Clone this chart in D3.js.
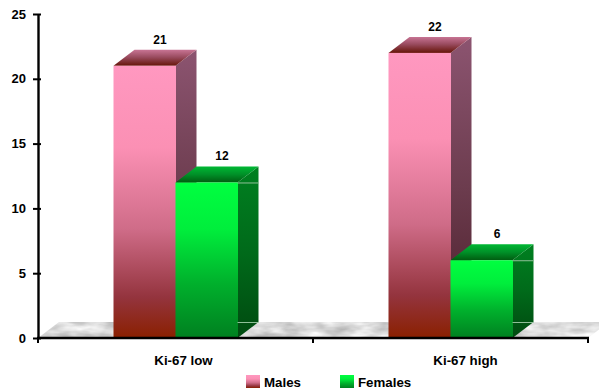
<!DOCTYPE html>
<html>
<head>
<meta charset="utf-8">
<script src="https://cdn.jsdelivr.net/npm/d3@7"></script>
<style>
html,body{margin:0;padding:0;background:#fff}
svg{display:block}
text{font-family:"Liberation Sans",Arial,sans-serif;font-weight:bold;fill:#000}
</style>
</head>
<body>
<svg id="chart" width="599" height="390"></svg>
<script>
const categories = ["Ki-67 low", "Ki-67 high"];
const seriesNames = ["Males", "Females"];
const males = [21, 22];
const females = [12, 6];
const yTicks = [0, 5, 10, 15, 20, 25];

const svg = d3.select("#chart");
const defs = svg.append("defs");

const plotLeft = 38, plotRight = 588, plotBottom = 338, plotTop = 14;
const depthX = 21, depthY = -16, barW = 62;

const y = d3.scaleLinear().domain([0, 25]).range([plotBottom, plotTop]);
const x0 = d3.scaleBand().domain(categories).range([plotLeft, plotRight]);
const x1 = d3.scaleBand().domain(seriesNames).range([-barW, barW]);
const labelX = d3.scalePoint().domain(categories).range([183.5, 465.5]);

function gradient(id, stops) {
  const g = defs.append("linearGradient").attr("id", id)
    .attr("x1", 0).attr("y1", 0).attr("x2", 0).attr("y2", 1);
  stops.forEach(([o, c]) => g.append("stop").attr("offset", o).attr("stop-color", c));
}
const palette = {
  Males: {
    front: [[0, "#ff98c0"], [0.3, "#fb90b4"], [0.6, "#cf6c88"], [0.85, "#94343e"], [1, "#8a2000"]],
    side: [[0, "#8c5470"], [0.5, "#6c3c4e"], [1, "#4a1c28"]],
    roof: [[0, "#c87494"], [0.45, "#9a4c60"], [1, "#661408"]]
  },
  Females: {
    front: [[0, "#00ff40"], [0.3, "#00ee3c"], [0.65, "#00b02c"], [1, "#008020"]],
    side: [[0, "#008020"], [0.5, "#006a1a"], [1, "#004a10"]],
    roof: [[0, "#00b834"], [0.5, "#009028"], [1, "#005c10"]]
  }
};
seriesNames.forEach(name => {
  gradient(name + "-front", palette[name].front);
  gradient(name + "-side", palette[name].side);
  gradient(name + "-roof", palette[name].roof);
});

// Marble texture for the floor slab
const marble = defs.append("filter").attr("id", "marble")
  .attr("color-interpolation-filters", "sRGB")
  .attr("x", 0).attr("y", 0).attr("width", 1).attr("height", 1);
marble.append("feTurbulence").attr("type", "fractalNoise")
  .attr("baseFrequency", "0.04 0.12").attr("numOctaves", 3).attr("seed", 3);
marble.append("feColorMatrix").attr("type", "matrix")
  .attr("values", "0.4 0 0 0 0.66  0.4 0 0 0 0.66  0.4 0 0 0 0.66  0 0 0 0 1");
marble.append("feComposite").attr("in2", "SourceGraphic").attr("operator", "in");

// Floor
svg.append("polygon")
  .attr("points", [
    [plotLeft, plotBottom], [plotLeft + depthX, plotBottom + depthY],
    [plotRight + depthX, plotBottom + depthY], [plotRight, plotBottom]
  ].join(" "))
  .attr("fill", "#ddd")
  .attr("filter", "url(#marble)");

// Bars: one group per category and series, males behind females
const rows = categories.flatMap((c, i) => [
  { category: c, series: "Males", value: males[i] },
  { category: c, series: "Females", value: females[i] }
]);

const bars = svg.append("g").selectAll("g").data(rows).join("g");
const xl = d => x0(d.category) + x0.bandwidth() / 2 + x1(d.series);

bars.append("polygon") // side face
  .attr("points", d => {
    const a = xl(d) + barW, t = y(d.value);
    return [[a, t], [a + depthX, t + depthY], [a + depthX, plotBottom + depthY], [a, plotBottom]].join(" ");
  })
  .attr("fill", d => `url(#${d.series}-side)`);

bars.append("polygon") // top face
  .attr("points", d => {
    const a = xl(d), t = y(d.value);
    return [[a, t], [a + depthX, t + depthY], [a + barW + depthX, t + depthY], [a + barW, t]].join(" ");
  })
  .attr("fill", d => `url(#${d.series}-roof)`);

bars.append("rect") // front face
  .attr("x", xl)
  .attr("y", d => y(d.value))
  .attr("width", barW + 0.5)
  .attr("height", d => plotBottom - y(d.value))
  .attr("fill", d => `url(#${d.series}-front)`);

// Pale construction lines crossing the green side faces
bars.filter(d => d.series === "Females").append("path")
  .attr("d", d => {
    const a = xl(d) + barW, t = y(d.value) + 0.5, f = plotBottom + depthY + 0.5;
    return `M${a},${t}H${a + depthX}M${a},${f}H${a + depthX}`;
  })
  .attr("stroke", "#8fbf98").attr("stroke-width", 1).attr("fill", "none");

// Value labels above each bar
bars.append("text")
  .attr("x", d => xl(d) + barW / 2 + depthX / 2 + 5)
  .attr("y", d => y(d.value) + depthY - 6)
  .attr("text-anchor", "middle")
  .attr("font-size", 12)
  .text(d => d.value);

// Value axis
const axisY = svg.append("g").attr("transform", `translate(${plotLeft},0)`)
  .call(d3.axisLeft(y).tickValues(yTicks).tickSize(5).tickPadding(7).tickSizeOuter(0));
axisY.select(".domain").attr("stroke", "#000").attr("stroke-width", 2.4);
axisY.selectAll(".tick line").attr("stroke", "#000").attr("stroke-width", 2)
  .attr("x1", 3).attr("x2", -5);
axisY.selectAll("text").attr("font-size", 13)
  .attr("font-family", '"Liberation Sans",Arial,sans-serif').attr("fill", "#000");

// Category axis with ticks on the category boundaries
const axisX = svg.append("g").attr("transform", `translate(0,${plotBottom})`);
axisX.append("line").attr("x1", plotLeft - 1).attr("x2", plotRight + 1)
  .attr("stroke", "#000").attr("stroke-width", 2.4);
const boundaries = [plotLeft, ...categories.map(c => x0(c) + x0.bandwidth())];
axisX.selectAll("line.tick").data(boundaries).join("line").attr("class", "tick")
  .attr("x1", d => d).attr("x2", d => d).attr("y1", 0).attr("y2", 5)
  .attr("stroke", "#000").attr("stroke-width", 2);
axisX.selectAll("text").data(categories).join("text")
  .attr("x", d => labelX(d))
  .attr("y", 27)
  .attr("text-anchor", "middle")
  .attr("font-size", 13.3)
  .text(d => d);

// Legend
const legendX = d3.scaleOrdinal().domain(seriesNames).range([246, 340]);
const legend = svg.append("g").selectAll("g").data(seriesNames).join("g")
  .attr("transform", d => `translate(${legendX(d)},375)`);
legend.append("rect").attr("width", 14).attr("height", 13)
  .attr("fill", d => `url(#${d}-front)`);
legend.append("text").attr("x", 18).attr("y", 11.5).attr("font-size", 13.3).text(d => d);
</script>
</body>
</html>
